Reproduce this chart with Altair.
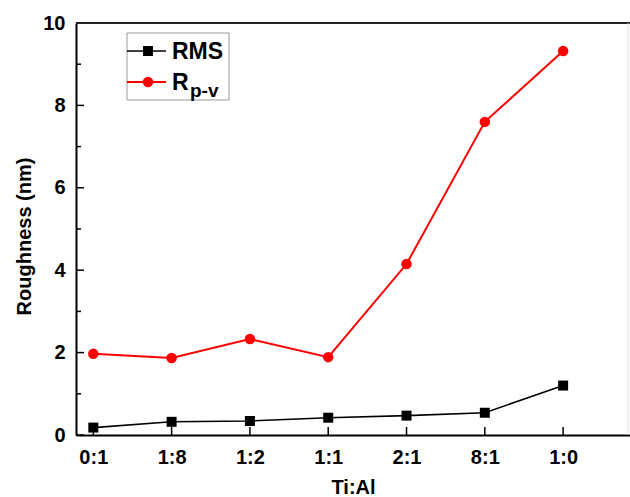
import json
import altair as alt
import pandas as pd

categories = ["0:1", "1:8", "1:2", "1:1", "2:1", "8:1", "1:0"]
rms = [0.18, 0.32, 0.34, 0.42, 0.47, 0.54, 1.20]
rpv = [1.97, 1.87, 2.33, 1.89, 4.15, 7.60, 9.32]
y_major = [0, 2, 4, 6, 8, 10]
y_minor = [1, 3, 5, 7, 9]

W, H = 554, 412
FONT = "Liberation Sans"

df = pd.DataFrame({"idx": list(range(len(categories))), "cat": categories,
                   "rms": rms, "rpv": rpv})
label_expr = json.dumps(categories) + "[datum.value]"

xscale = alt.Scale(domain=[-0.221, 6.854], nice=False, zero=False)
yscale = alt.Scale(domain=[0, 10], nice=False)

xenc = alt.X("idx:Q", scale=xscale,
             axis=alt.Axis(values=list(range(len(categories))), labelExpr=label_expr,
                           title="Ti:Al", grid=False, ticks=False, labelPadding=12,
                           labelFont=FONT, labelFontSize=20, labelFontWeight="bold",
                           labelColor="black", titleFont=FONT, titleFontSize=20,
                           titleFontWeight="bold", titleColor="black", titlePadding=10,
                           domainColor="black", domainWidth=2, labelFlush=False))
yax = alt.Axis(values=y_major, title="Roughness (nm)", grid=False, ticks=False,
               labelPadding=11, labelFont=FONT, labelFontSize=20, labelFontWeight="bold",
               labelColor="black", titleFont=FONT, titleFontSize=20, titleFontWeight="bold",
               titleColor="black", titlePadding=8, titleY=H / 2 + 7, domainColor="black",
               domainWidth=2, labelFlush=False)

base = alt.Chart(df)
rms_line = base.mark_line(color="black", strokeWidth=1.6).encode(
    x=xenc, y=alt.Y("rms:Q", scale=yscale, axis=yax))
rms_pts = base.mark_point(shape="square", filled=True, color="black", size=100, opacity=1).encode(
    x="idx:Q", y="rms:Q")
rpv_line = base.mark_line(color="#ff0000", strokeWidth=2).encode(x="idx:Q", y="rpv:Q")
rpv_pts = base.mark_point(shape="circle", filled=True, color="#ff0000", size=110, opacity=1).encode(
    x="idx:Q", y="rpv:Q")

ymaj_df = pd.DataFrame({"v": y_major})
ymin_df = pd.DataFrame({"v": y_minor})
ymaj_ticks = alt.Chart(ymaj_df).mark_rule(color="black", strokeWidth=1.5).encode(
    y=alt.Y("v:Q", scale=yscale), x=alt.value(0), x2=alt.value(8))
ymin_ticks = alt.Chart(ymin_df).mark_rule(color="black", strokeWidth=1.5).encode(
    y=alt.Y("v:Q", scale=yscale), x=alt.value(0), x2=alt.value(5))
xticks = alt.Chart(df).mark_rule(color="black", strokeWidth=1.5).encode(
    x=alt.X("idx:Q", scale=xscale), y=alt.value(H), y2=alt.value(H - 8))

one = pd.DataFrame({"a": [0]})
top_rule = alt.Chart(one).mark_rule(color="#222222", strokeWidth=2).encode(
    x=alt.value(0), x2=alt.value(W), y=alt.value(0))
right_rule = alt.Chart(one).mark_rule(color="#dddddd", strokeWidth=1).encode(
    x=alt.value(W - 2), y=alt.value(0), y2=alt.value(H))

# legend (box, samples, labels)
lx, ly = 127 - 76, 33 - 23
box = alt.Chart(one).mark_rect(fill="white", stroke="#999999", strokeWidth=1).encode(
    x=alt.value(lx), x2=alt.value(lx + 102), y=alt.value(ly), y2=alt.value(ly + 67))
leg_l1 = alt.Chart(one).mark_rule(color="black", strokeWidth=1.6).encode(
    x=alt.value(lx), x2=alt.value(lx + 39), y=alt.value(ly + 18))
leg_p1 = alt.Chart(one).mark_point(shape="square", filled=True, color="black", size=100, opacity=1).encode(
    x=alt.value(lx + 21), y=alt.value(ly + 18))
leg_l2 = alt.Chart(one).mark_rule(color="#ff0000", strokeWidth=2).encode(
    x=alt.value(lx), x2=alt.value(lx + 39), y=alt.value(ly + 49))
leg_p2 = alt.Chart(one).mark_point(shape="circle", filled=True, color="#ff0000", size=110, opacity=1).encode(
    x=alt.value(lx + 21), y=alt.value(ly + 49))
leg_t1 = alt.Chart(one).mark_text(text="RMS", font=FONT, fontSize=23, fontWeight="bold",
                                  align="left", baseline="alphabetic", color="black").encode(
    x=alt.value(lx + 45), y=alt.value(ly + 26))
leg_t2 = alt.Chart(one).mark_text(text="R", font=FONT, fontSize=23, fontWeight="bold",
                                  align="left", baseline="alphabetic", color="black").encode(
    x=alt.value(lx + 45), y=alt.value(ly + 57))
leg_t3 = alt.Chart(one).mark_text(text="p-v", font=FONT, fontSize=19, fontWeight="bold",
                                  align="left", baseline="alphabetic", color="black").encode(
    x=alt.value(lx + 63), y=alt.value(ly + 64))

chart = alt.layer(
    rms_line, rpv_line, rms_pts, rpv_pts, ymaj_ticks, ymin_ticks, xticks,
    top_rule, right_rule, box, leg_l1, leg_l2, leg_p1, leg_p2, leg_t1, leg_t2, leg_t3
).properties(
    width=W, height=H, autosize=alt.AutoSizeParams(type="none"),
    padding={"left": 76, "top": 23, "right": 0, "bottom": 62}
).configure_view(stroke=None).configure(background="white")

chart.save("out.html", embed_options={"renderer": "svg", "actions": False})
